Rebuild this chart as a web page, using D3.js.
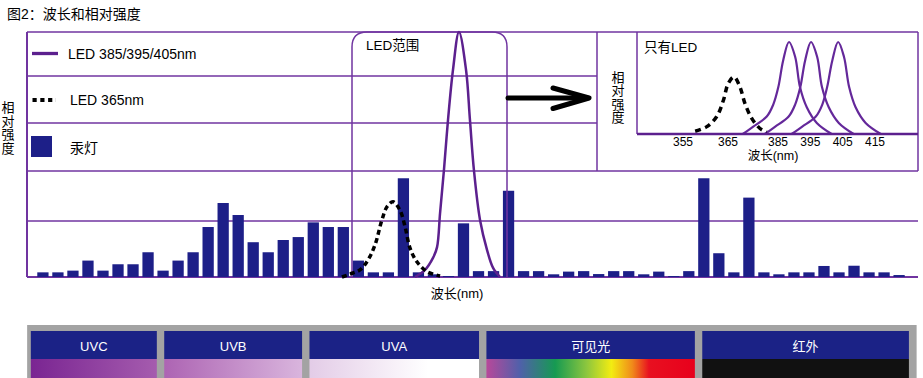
<!DOCTYPE html>
<html>
<head>
<meta charset="utf-8">
<script src="https://cdn.jsdelivr.net/npm/d3@7"></script>
<style>
    body { margin: 0; background: #fff; }
    svg { display: block; font-family: "Liberation Sans", "Noto Sans CJK SC", sans-serif; }
</style>
</head>
<body>
<svg id="chart" width="923" height="378"></svg>
<script>
// Mercury lamp lines, one bar per channel (relative intensity, 0-100)
const barValues = [
    1.9, 1.9, 2.6, 6.7, 2.6, 5.2, 5.2, 10.1, 2.6, 6.7,
    10.1, 20.4, 30.2, 25.3, 14.2, 10.1, 15.1, 16.3, 22.3, 20.4,
    20.4, 6.7, 1.9, 1.9, 40.3, 1.9, 1.1, 0.4, 21.9, 2.4,
    2.4, 35.2, 2.4, 2.4, 1.1, 2.2, 2.4, 1.2, 2.4, 2.4,
    1.1, 2.2, 0.4, 2.4, 40.3, 9.7, 1.9, 32.4, 1.9, 1.1,
    1.9, 1.9, 4.5, 1.9, 4.6, 1.9, 1.9, 0.8
];

// LED curves on the main chart: [channel, relative intensity]
const ledMainCurve = [
    [25.27, 0], [25.94, 2.9], [26.47, 7.8], [26.74, 12.2], [26.94, 26.1],
    [27.2, 43.7], [27.47, 64.1], [27.8, 84.5], [28.2, 100], [28.67, 84.5],
    [28.93, 64.1], [29.2, 43.3], [29.6, 23.3], [30.07, 11], [30.47, 3.7], [30.93, 0]
];
const led365MainCurve = [
    [20.41, 0], [20.94, 1.2], [21.61, 2.9], [22.14, 6.9], [22.61, 13.1],
    [23.07, 23.3], [23.41, 28.7], [23.81, 30.7], [24.27, 27.3], [24.61, 20.5],
    [24.94, 11.8], [25.4, 6.2], [26.07, 2.2], [26.94, 0.4]
];

// Inset "LED only": [wavelength nm, relative intensity]
const insetTicks = [355, 365, 385, 395, 405, 415];
const inset365 = [
    [357.7, 0.03], [360.3, 0.08], [362.5, 0.19], [364.0, 0.37], [365.1, 0.55],
    [367.4, 0.62], [369.8, 0.51], [371.8, 0.33], [374.5, 0.17], [377.8, 0.06], [380.5, 0.02]
];
const inset385 = [
    [370.9, 0], [375.1, 0.08], [380.5, 0.19], [383.1, 0.32], [385.1, 0.51], [386.6, 0.8],
    [388.4, 1], [390.3, 0.84], [391.8, 0.51], [393.9, 0.29], [397.0, 0.12], [401.6, 0]
];
const inset395 = [
    [379.7, 0], [383.9, 0.08], [388.3, 0.19], [390.3, 0.32], [391.9, 0.51], [393.4, 0.8],
    [395.2, 1], [397.1, 0.84], [398.6, 0.51], [400.7, 0.29], [403.8, 0.12], [408.4, 0]
];
const inset405 = [
    [389.2, 0], [392.5, 0.08], [396.7, 0.19], [398.7, 0.32], [400.2, 0.51], [401.8, 0.8],
    [403.6, 1], [405.4, 0.84], [407.0, 0.51], [409.0, 0.29], [412.1, 0.12], [416.8, 0]
];

// Spectrum strip below the chart, edges in channel units
const spectrumLabels = ['UVC', 'UVB', 'UVA', '可见光', '红外'];
const spectrumEdges = [-0.55, 8.33, 18.0, 29.78, 44.15, 58.4];

const legendLabels = ['LED 385/395/405nm', 'LED 365nm', '汞灯'];

(function() {
    const svg = d3.select('#chart');
    const purple = '#7034a0';
    const ledPurple = '#5c208e';
    const navy = '#1d1f88';

    const left = 27, right = 918, top = 32, base = 277;
    const n = barValues.length;

    const xBand = d3.scaleBand()
        .domain(d3.range(n))
        .range([35.4, 906.6])
        .paddingInner(0.25)
        .paddingOuter(0.125);
    const xMain = d3.scaleLinear().domain([0, n]).range([35.4, 906.6]);
    const yMain = d3.scaleLinear().domain([0, 100]).range([base, top]);

    // Title
    svg.append('text')
        .attr('x', 7).attr('y', 18.5)
        .style('font-size', '14px')
        .text('图2：波长和相对强度');

    // Grid / frame lines
    const grid = svg.append('g').attr('stroke', purple).attr('stroke-width', 1.5);
    const hLine = (y, x1, x2) => grid.append('line').attr('x1', x1).attr('x2', x2).attr('y1', y).attr('y2', y);
    const vLine = (x, y1, y2) => grid.append('line').attr('x1', x).attr('x2', x).attr('y1', y1).attr('y2', y2);
    hLine(top, left, right);
    hLine(76, left, 597);
    hLine(123, left, 597);
    hLine(171, left, right);
    hLine(221, left, right);
    vLine(597, top, 171);
    vLine(right, top, 171);

    // Bars
    svg.append('g').selectAll('rect')
        .data(barValues)
        .join('rect')
        .attr('x', (d, i) => xBand(i))
        .attr('width', xBand.bandwidth())
        .attr('y', d => yMain(d))
        .attr('height', d => base - yMain(d))
        .attr('fill', navy);

    // LED range rounded box
    const r = 15, bx1 = 352, bx2 = 507;
    svg.append('path')
        .attr('d', `M${bx1},${base} V${top + r} Q${bx1},${top} ${bx1 + r},${top} H${bx2 - r} Q${bx2},${top} ${bx2},${top + r} V${base}`)
        .attr('fill', 'none')
        .attr('stroke', purple)
        .attr('stroke-width', 1.5);
    svg.append('text')
        .attr('x', 366).attr('y', 49.5)
        .style('font-size', '13.5px')
        .text('LED范围');

    // Main curves
    const mainLine = d3.line()
        .x(d => xMain(d[0]))
        .y(d => yMain(d[1]))
        .curve(d3.curveCatmullRom.alpha(0.5));
    svg.append('path')
        .attr('d', mainLine(ledMainCurve))
        .attr('fill', 'none')
        .attr('stroke', ledPurple)
        .attr('stroke-width', 2.5);
    svg.append('path')
        .attr('d', mainLine(led365MainCurve))
        .attr('fill', 'none')
        .attr('stroke', '#000')
        .attr('stroke-width', 3.5)
        .attr('stroke-dasharray', '5,3.5');

    // Axis lines
    grid.append('line').attr('x1', left).attr('x2', right).attr('y1', base).attr('y2', base).attr('stroke-width', 2);
    grid.append('line').attr('x1', left).attr('x2', left).attr('y1', top).attr('y2', base).attr('stroke-width', 2);

    // Y label, stacked characters
    const stacked = (x, y0, step, size) => {
        svg.append('g').selectAll('text')
            .data('相对强度'.split(''))
            .join('text')
            .attr('x', x)
            .attr('y', (d, i) => y0 + i * step)
            .attr('text-anchor', 'middle')
            .style('font-size', size)
            .text(d => d);
    };
    stacked(8, 112, 13.6, '13px');

    svg.append('text')
        .attr('x', 457).attr('y', 298)
        .attr('text-anchor', 'middle')
        .style('font-size', '13px')
        .text('波长(nm)');

    // Legend
    const legend = svg.append('g');
    legend.append('line')
        .attr('x1', 32).attr('x2', 58).attr('y1', 53.5).attr('y2', 53.5)
        .attr('stroke', ledPurple).attr('stroke-width', 3.3);
    legend.append('line')
        .attr('x1', 32.5).attr('x2', 56).attr('y1', 100).attr('y2', 100)
        .attr('stroke', '#000').attr('stroke-width', 4.2)
        .attr('stroke-dasharray', '4.2,3.6');
    legend.append('rect')
        .attr('x', 31).attr('y', 136).attr('width', 21).attr('height', 21)
        .attr('fill', navy);
    legend.selectAll('text')
        .data(legendLabels)
        .join('text')
        .attr('x', (d, i) => i === 0 ? 68 : 70)
        .attr('y', (d, i) => [59, 105, 152.5][i])
        .style('font-size', '14px')
        .text(d => d);

    // Arrow
    const arrow = svg.append('g')
        .attr('stroke', '#000').attr('stroke-width', 5)
        .attr('stroke-linecap', 'round').attr('stroke-linejoin', 'round')
        .attr('fill', 'none');
    arrow.append('line').attr('x1', 508).attr('x2', 587).attr('y1', 98).attr('y2', 98);
    arrow.append('polyline').attr('points', '553,88 589,98 553,108.5');

    // Inset
    const xInset = d3.scaleLinear().domain([355, 365, 385, 415]).range([683, 728, 778, 875]);
    const yInset = d3.scaleLinear().domain([0, 1]).range([134, 42]);
    const inset = svg.append('g');
    inset.append('line').attr('x1', 637).attr('x2', 637).attr('y1', top).attr('y2', 134)
        .attr('stroke', purple).attr('stroke-width', 1.5);

    const insetLine = d3.line()
        .x(d => xInset(d[0]))
        .y(d => yInset(d[1]))
        .curve(d3.curveCatmullRom.alpha(0.5));
    [inset385, inset395, inset405].forEach(c => {
        inset.append('path')
            .attr('d', insetLine(c))
            .attr('fill', 'none')
            .attr('stroke', '#64289a')
            .attr('stroke-width', 2.2);
    });
    inset.append('path')
        .attr('d', insetLine(inset365))
        .attr('fill', 'none')
        .attr('stroke', '#000')
        .attr('stroke-width', 3.5)
        .attr('stroke-dasharray', '6,4.5');

    inset.append('line').attr('x1', 637).attr('x2', right).attr('y1', 134).attr('y2', 134)
        .attr('stroke', ledPurple).attr('stroke-width', 2.5);

    inset.append('g').selectAll('text')
        .data(insetTicks)
        .join('text')
        .attr('x', d => xInset(d))
        .attr('y', 146)
        .attr('text-anchor', 'middle')
        .style('font-size', '12px')
        .text(d => d);
    inset.append('text')
        .attr('x', 773).attr('y', 160)
        .attr('text-anchor', 'middle')
        .style('font-size', '12.5px')
        .text('波长(nm)');
    inset.append('text')
        .attr('x', 644).attr('y', 52)
        .style('font-size', '13.5px')
        .text('只有LED');
    stacked(618, 82, 13.4, '13px');

    // Spectrum strip
    const defs = svg.append('defs');
    const gradStops = [
        [['0%', '#7a2592'], ['100%', '#a55cae']],
        [['0%', '#ad64b3'], ['100%', '#d9b5dd']],
        [['0%', '#e3cce7'], ['70%', '#ffffff'], ['100%', '#ffffff']],
        [['0%', '#b8489a'], ['16%', '#5060aa'], ['33%', '#169a52'], ['48%', '#8cc63e'],
         ['60%', '#f3ec12'], ['70%', '#f08a1a'], ['78%', '#e81020'], ['100%', '#e8001c']],
        [['0%', '#111111'], ['100%', '#111111']]
    ];
    gradStops.forEach((stops, i) => {
        const g = defs.append('linearGradient').attr('id', 'spec' + i)
            .attr('x1', '0%').attr('x2', '100%').attr('y1', '0%').attr('y2', '0%');
        stops.forEach(s => g.append('stop').attr('offset', s[0]).attr('stop-color', s[1]));
    });

    svg.append('rect')
        .attr('x', xMain(spectrumEdges[0])).attr('y', 325)
        .attr('width', xMain(spectrumEdges[spectrumEdges.length - 1]) + 4 - xMain(spectrumEdges[0]))
        .attr('height', 60)
        .attr('fill', '#a3a3a3');

    const bands = svg.append('g').selectAll('g')
        .data(spectrumLabels)
        .join('g');
    bands.append('rect')
        .attr('x', (d, i) => xMain(spectrumEdges[i]) + 3.7)
        .attr('width', (d, i) => xMain(spectrumEdges[i + 1]) - xMain(spectrumEdges[i]) - 7.4)
        .attr('y', 359).attr('height', 25)
        .attr('fill', (d, i) => `url(#spec${i})`);
    bands.append('rect')
        .attr('x', (d, i) => xMain(spectrumEdges[i]) + 3.7)
        .attr('width', (d, i) => xMain(spectrumEdges[i + 1]) - xMain(spectrumEdges[i]) - 7.4)
        .attr('y', 331).attr('height', 28)
        .attr('fill', '#1b2286');
    bands.append('text')
        .attr('x', (d, i) => (xMain(spectrumEdges[i]) + xMain(spectrumEdges[i + 1])) / 2)
        .attr('y', 350.5)
        .attr('text-anchor', 'middle')
        .attr('fill', '#fff')
        .style('font-size', '13px')
        .text(d => d);
})();
</script>
</body>
</html>
